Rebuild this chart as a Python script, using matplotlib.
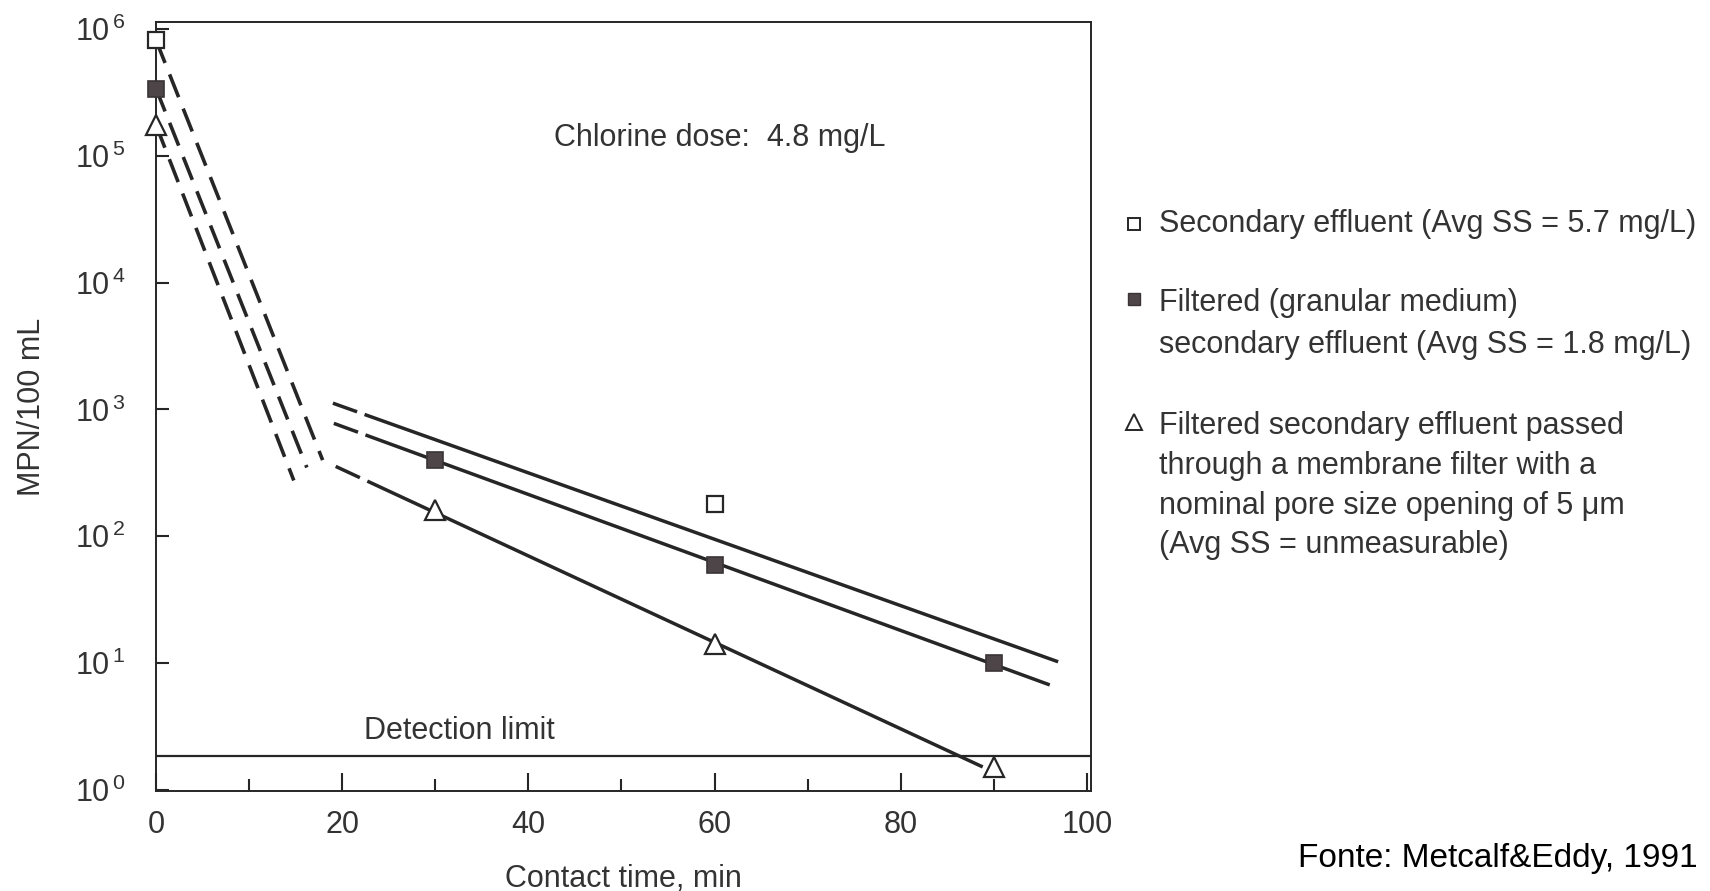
import numpy as np
import matplotlib
matplotlib.use("Agg")
import matplotlib.pyplot as plt
from matplotlib.lines import Line2D
from matplotlib.ticker import FixedLocator, FuncFormatter

plt.rcParams['font.family'] = ['Liberation Sans', 'DejaVu Sans']
plt.rcParams['mathtext.fontset'] = 'custom'
plt.rcParams['mathtext.rm'] = 'Liberation Sans'
plt.rcParams['mathtext.it'] = 'Liberation Sans:italic'
plt.rcParams['mathtext.bf'] = 'Liberation Sans:bold'

# ---------------- data ----------------
# measured points (contact time in min, MPN/100 mL)
sec_x = [0, 60]
sec_y = [8.2e5, 180]
filt_x = [0, 30, 60, 90]
filt_y = [3.4e5, 400, 59, 10]
memb_x = [0, 30, 60, 90]
memb_y = [1.76e5, 162, 14.2, 1.51]

# initial die-off (dashed) lines
steep_sec_x, steep_sec_y = [0, 17.9], [8.2e5, 398]
steep_filt_x, steep_filt_y = [0, 16.2], [3.4e5, 348]
steep_memb_x, steep_memb_y = [0, 14.8], [1.76e5, 275]

# fitted decay lines
fit_sec_x, fit_sec_y = [19.0, 96.9], [1120, 10.2]
fit_filt_x, fit_filt_y = [19.1, 96.0], [776, 6.7]
fit_memb_x, fit_memb_y = [19.3, 88.8], [355, 1.51]

detection_limit = 1.85
x_major = [0, 20, 40, 60, 80, 100]
x_minor = [10, 30, 50, 70, 90]
y_major = [1, 10, 100, 1e3, 1e4, 1e5, 1e6]

legend_labels = [
    ["Secondary effluent (Avg SS = 5.7 mg/L)"],
    ["Filtered (granular medium)", "secondary effluent (Avg SS = 1.8 mg/L)"],
    ["Filtered secondary effluent passed", "through a membrane filter with a",
     "nominal pore size opening of 5 \u03bcm", "(Avg SS = unmeasurable)"],
]
annotation = "Chlorine dose:  4.8 mg/L"
source = "Fonte: Metcalf&Eddy, 1991"

# ---------------- style ----------------
W, H = 1710, 891
TXT = '#333333'
LN = '#262626'
FILL = '#4d4548'
FS = 22

fig = plt.figure(figsize=(W / 100, H / 100), dpi=100)
ax = fig.add_axes([156 / W, 1 - 791 / H, (1091 - 156) / W, (791 - 22) / H])
ax.set_yscale('log')
ax.set_xlim(0, 100.43)
ax.set_ylim(0.975, 1.14e6)

for s in ax.spines.values():
    s.set_color(LN)
    s.set_linewidth(1.4)


def along(xs, ys, x):
    return 10 ** np.interp(x, xs, np.log10(ys))


# steep dashed lines
for xs, ys in [(steep_sec_x, steep_sec_y), (steep_filt_x, steep_filt_y),
               (steep_memb_x, steep_memb_y)]:
    ln, = ax.plot(xs, ys, color=LN, lw=2.6, solid_capstyle='butt')
    ln.set_dashes((6.8, 3.4))
    ln.set_dash_capstyle('butt')

# fitted lines: one dash then solid
for xs, ys in [(fit_sec_x, fit_sec_y), (fit_filt_x, fit_filt_y),
               (fit_memb_x, fit_memb_y)]:
    x0, x1 = xs
    d = np.array([x0, x0 + 2.6])
    ax.plot(d, along(xs, ys, d), color=LN, lw=2.5, solid_capstyle='butt')
    s = np.array([x0 + 3.4, x1])
    ax.plot(s, along(xs, ys, s), color=LN, lw=2.5, solid_capstyle='butt')

# detection limit
ax.axhline(detection_limit, color=LN, lw=1.6)
ax.text(32.6, 10 ** 0.465, "Detection limit", ha='center', va='center',
        fontsize=FS, color=TXT)
ax.text(60.6, 10 ** 5.14, annotation, ha='center', va='center',
        fontsize=FS, color=TXT)

# markers
ax.plot(sec_x, sec_y, ls='none', marker='s', ms=11, mfc='white', mec=LN,
        mew=1.6, clip_on=False, zorder=5)
ax.plot(filt_x, filt_y, ls='none', marker='s', ms=11, mfc=FILL, mec='#3a3436',
        mew=1.2, clip_on=False, zorder=5)
ax.plot(memb_x, memb_y, ls='none', marker='^', ms=15, mfc='white', mec=LN,
        mew=1.6, clip_on=False, zorder=5)

# ticks
ax.xaxis.set_major_locator(FixedLocator(x_major))
ax.xaxis.set_minor_locator(FixedLocator(x_minor))
ax.yaxis.set_major_locator(FixedLocator(y_major))
ax.yaxis.set_minor_locator(FixedLocator([]))
ax.xaxis.set_major_formatter(FuncFormatter(lambda v, p: f"{v:g}"))
ax.yaxis.set_major_formatter(FuncFormatter(
    lambda v, p: r"$10^{\,%d}$" % int(round(np.log10(v)))))
ax.tick_params(axis='x', which='major', direction='in', length=13, width=1.5,
               color=LN, labelsize=FS, labelcolor=TXT, pad=14)
ax.tick_params(axis='x', which='minor', direction='in', length=9, width=1.5,
               color=LN)
ax.tick_params(axis='y', which='major', direction='in', length=9.5, width=1.5,
               color=LN, labelsize=FS, labelcolor=TXT, pad=22)

ax.set_xlabel("Contact time, min", fontsize=FS, color=TXT, labelpad=17)
ax.set_ylabel("MPN/100 mL", fontsize=FS, color=TXT, labelpad=20)

# legend (custom, outside axes)
def fx(px):
    return px / W


def fy(py):
    return 1 - py / H


leg_rows = [[223.6], [303, 344.6], [426.4, 465.7, 506, 545]]
leg_marker_y = [223.6, 299, 422]
leg_styles = [dict(marker='s', ms=9, mfc='white', mec=LN, mew=1.4),
              dict(marker='s', ms=9, mfc=FILL, mec='#3a3436', mew=1.0),
              dict(marker='^', ms=11, mfc='white', mec=LN, mew=1.4)]
for lines, rows, my, st in zip(legend_labels, leg_rows, leg_marker_y, leg_styles):
    fig.add_artist(Line2D([fx(1134)], [fy(my)], ls='none',
                          transform=fig.transFigure, **st))
    for t, ry in zip(lines, rows):
        fig.text(fx(1159), fy(ry), t, ha='left', va='center', fontsize=FS,
                 color=TXT)

fig.text(fx(1298), fy(858), source, ha='left', va='center', fontsize=24,
         color='black')

fig.savefig("out.png", dpi=100)
